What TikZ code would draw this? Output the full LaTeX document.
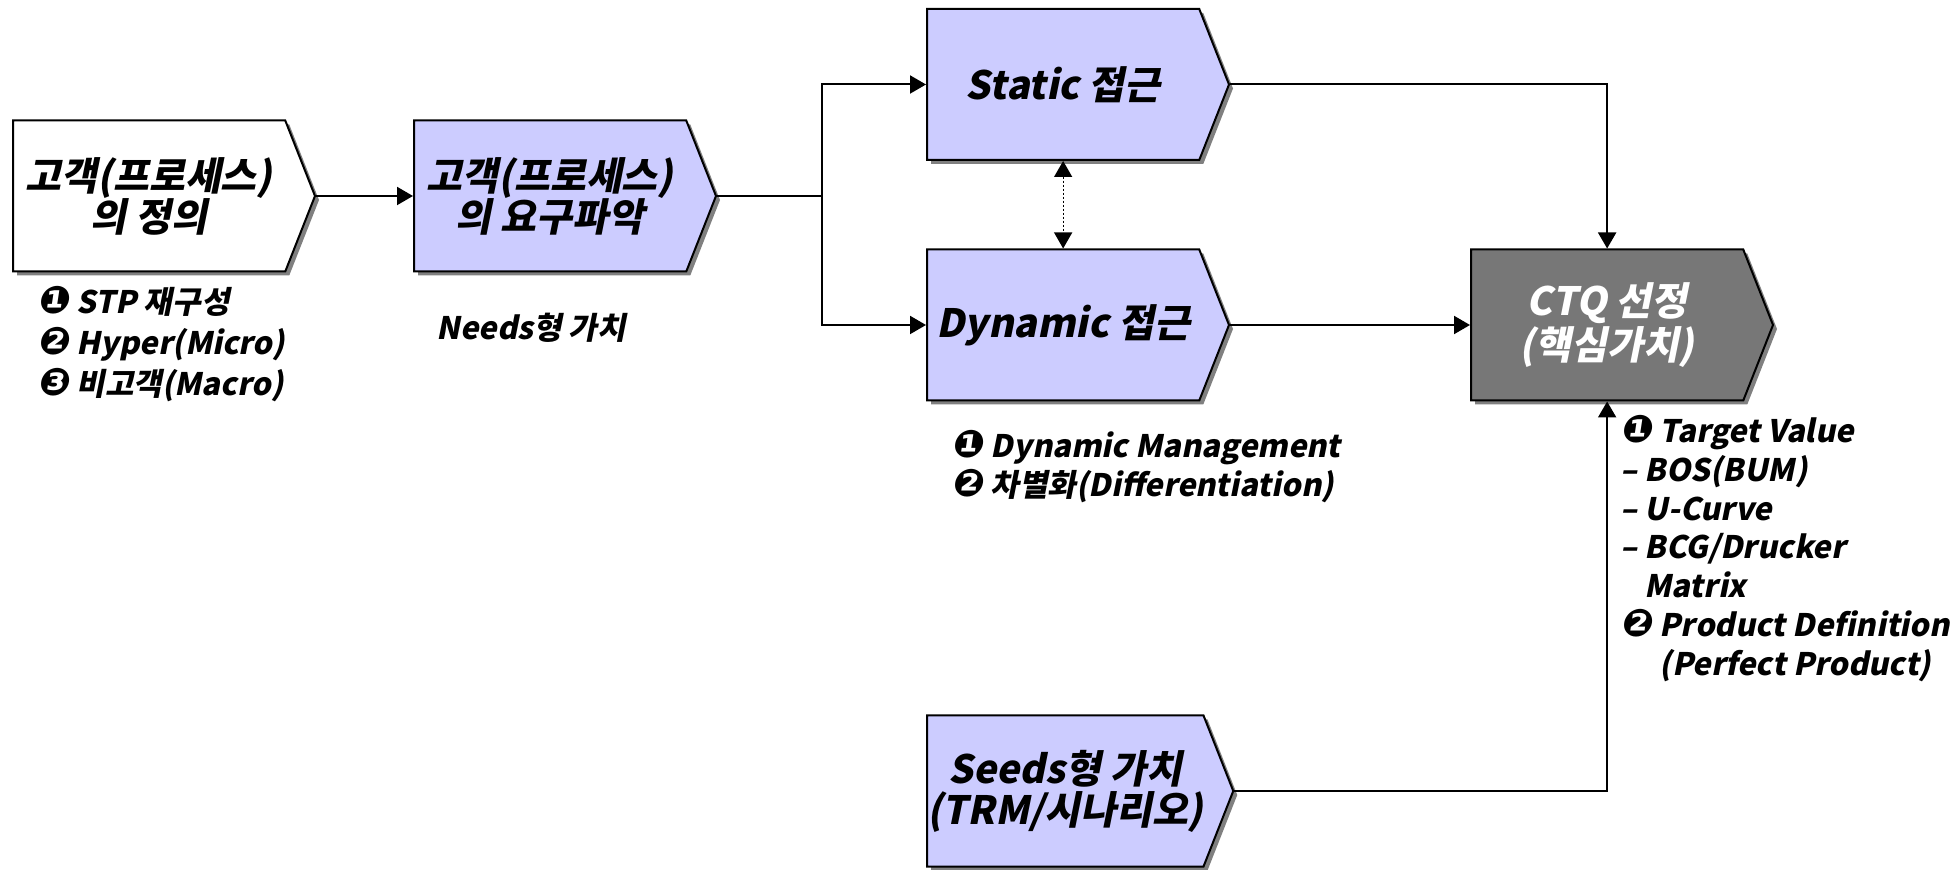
\documentclass[tikz,border=0pt]{standalone}
\usepackage{fontspec}
\usetikzlibrary{shapes.symbols,shadows,arrows.meta}
\newfontfamily\krb[FakeSlant=0.2]{Noto Sans CJK KR Black}
\newfontfamily\dvs[FakeSlant=0.15]{DejaVu Sans Bold}
\definecolor{lav}{HTML}{CCCCFF}
\definecolor{ctqgray}{HTML}{777777}
\definecolor{shadowgray}{HTML}{808080}
% filled circled numerals used as list bullets
\newcommand\nb[1]{{\dvs\fontsize{19}{15}\selectfont #1}}
\begin{document}
\begin{tikzpicture}[x=0.5pt,y=-0.5pt,
  chev/.style={signal, signal to=east, signal pointer angle=137,
    draw=black, line width=1pt, fill=lav,
    minimum width=151pt, minimum height=75.5pt,
    inner sep=0pt, align=center, anchor=west,
    font=\krb\fontsize{19.5}{20.5}\selectfont,
    drop shadow={shadow xshift=2pt, shadow yshift=-2pt, fill=shadowgray, opacity=1}},
  note/.style={anchor=north west, inner sep=0pt, align=left,
    font=\krb\fontsize{15.5}{19.4}\selectfont},
  link/.style={line width=1pt, -{Triangle[length=8pt,width=9pt]}},
  wire/.style={line width=1pt}
]
\useasboundingbox (0,0) rectangle (1954,870);

% process boxes
\node[chev, fill=white] (def) at (12,196) {고객(프로세스)\\의 정의};
\node[chev] (need) at (413,196) {고객(프로세스)\\의 요구파악};
\node[chev] (st) at (926,84.5) {Static 접근};
\node[chev] (dy) at (926,325) {Dynamic 접근};
\node[chev, fill=ctqgray, text=white] (ctq) at (1470,325) {CTQ 선정\\(핵심가치)};
\node[chev] (sd) at (926,791) {Seeds형 가치\\(TRM/시나리오)};

% notes under the boxes
\node[note, font=\krb\fontsize{15.5}{20.5}\selectfont] (n1) at (37,286)
  {\nb{❶} STP 재구성\\\nb{❷} Hyper(Micro)\\\nb{❸} 비고객(Macro)};
\node[note] (n2) at (436,313) {Needs형 가치};
\node[note] (n3) at (951,430)
  {\nb{❶} Dynamic Management\\\nb{❷} 차별화(Differentiation)};
\node[note] (n4) at (1620,415)
  {\nb{❶} Target Value\\– BOS(BUM)\\– U-Curve\\– BCG/Drucker\\\hphantom{– }Matrix\\
   \nb{❷} Product Definition\\\hphantom{\nb{❷} }(Perfect Product)};

% connectors
\coordinate (split) at (822,196);
\draw[link] (def.east) -- (need.west);
\draw[wire] (need.east) -- (split);
\draw[link] (split) |- (st.west);
\draw[link] (split) |- (dy.west);
\draw[link] (st.east) -| (ctq.north);
\draw[link] (dy.east) -- (ctq.west);
\draw[link] (sd.east) -| (ctq.south);
\draw[line width=0.6pt, dash pattern=on 1pt off 1pt,
  {Triangle[length=8pt,width=9pt]}-{Triangle[length=8pt,width=9pt]}]
  (st.south) -- (dy.north);
\end{tikzpicture}
\end{document}
